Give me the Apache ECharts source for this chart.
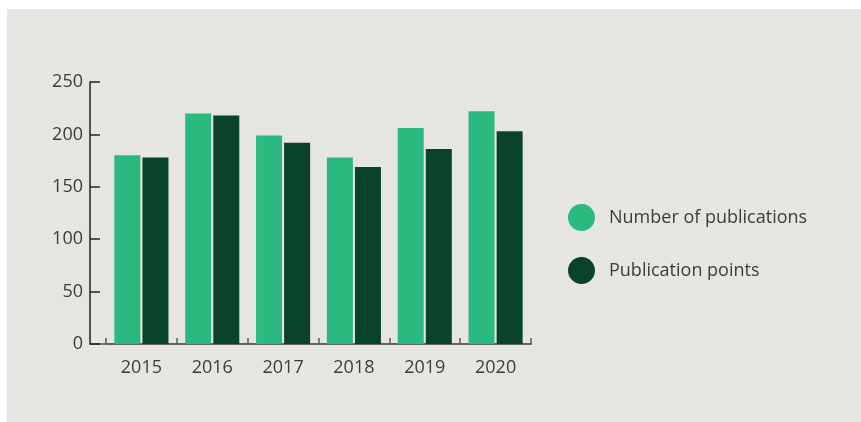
<!DOCTYPE html>
<html>
<head>
<meta charset="utf-8">
<script src="https://cdn.jsdelivr.net/npm/echarts@6/dist/echarts.min.js"></script>
<style>
html,body{margin:0;padding:0;background:#ffffff;}
#panel{position:absolute;left:7px;top:9px;width:854px;height:413px;background:#e5e6e1;}
#chart{position:absolute;left:0;top:0;width:861px;height:422px;}
</style>
</head>
<body>
<div id="panel"></div>
<div id="chart"></div>
<script>
const categories = ['2015', '2016', '2017', '2018', '2019', '2020'];
const publications = [180, 220, 199, 178, 206, 222];
const publicationPoints = [178, 218, 192, 169, 186, 203];
const seriesNames = ['Number of publications', 'Publication points'];
const yTicks = { min: 0, max: 250, interval: 50 };

const FONT = '"Open Sans", "Noto Sans", sans-serif';
const TEXT = '#3c3c3c';
const FS = 18;
const chart = echarts.init(document.getElementById('chart'), null, { renderer: 'canvas' });
chart.setOption({
  backgroundColor: 'transparent',
  animation: false,
  textStyle: { fontFamily: FONT },
  grid: [
    { left: 106, right: 330, top: 82, bottom: 78 },
    { left: 90, right: 330, top: 82, bottom: 78 }
  ],
  legend: {
    orient: 'vertical',
    left: 568,
    top: 204,
    padding: 0,
    itemWidth: 27,
    itemHeight: 27,
    itemGap: 26,
    icon: 'circle',
    textStyle: { fontFamily: FONT, fontSize: FS, color: TEXT, padding: [0, 0, 0, 9] },
    data: seriesNames
  },
  xAxis: [
    {
      type: 'category',
      gridIndex: 0,
      data: categories,
      axisLine: { lineStyle: { color: '#5a5a5a', width: 1.5 } },
      axisTick: { show: true, inside: true, length: 6, interval: 0, lineStyle: { color: '#5a5a5a', width: 1.5 } },
      axisLabel: { fontFamily: FONT, fontSize: FS, color: TEXT, margin: 15 }
    },
    {
      type: 'value',
      gridIndex: 1,
      min: 0, max: 1,
      axisLine: { show: true, lineStyle: { color: '#5a5a5a', width: 1.5 } },
      axisTick: { show: false },
      axisLabel: { show: false },
      splitLine: { show: false }
    }
  ],
  yAxis: [
    {
      type: 'value',
      gridIndex: 0,
      min: yTicks.min,
      max: yTicks.max,
      interval: yTicks.interval,
      offset: 16,
      axisLine: { show: true, lineStyle: { color: '#222', width: 1.5 } },
      axisTick: { show: true, inside: true, length: 10, lineStyle: { color: '#222', width: 1.5 } },
      axisLabel: { fontFamily: FONT, fontSize: FS, color: TEXT, margin: 7 },
      splitLine: { show: false }
    },
    {
      type: 'value',
      gridIndex: 1,
      show: false,
      min: 0, max: 1
    }
  ],
  series: [
    {
      name: seriesNames[0],
      type: 'bar',
      xAxisIndex: 0, yAxisIndex: 0,
      data: publications,
      barWidth: 26,
      barGap: '8%',
      itemStyle: { color: '#2bb982' }
    },
    {
      name: seriesNames[1],
      type: 'bar',
      xAxisIndex: 0, yAxisIndex: 0,
      data: publicationPoints,
      barWidth: 26,
      barGap: '8%',
      itemStyle: { color: '#08432a' }
    }
  ]
});
</script>
</body>
</html>
